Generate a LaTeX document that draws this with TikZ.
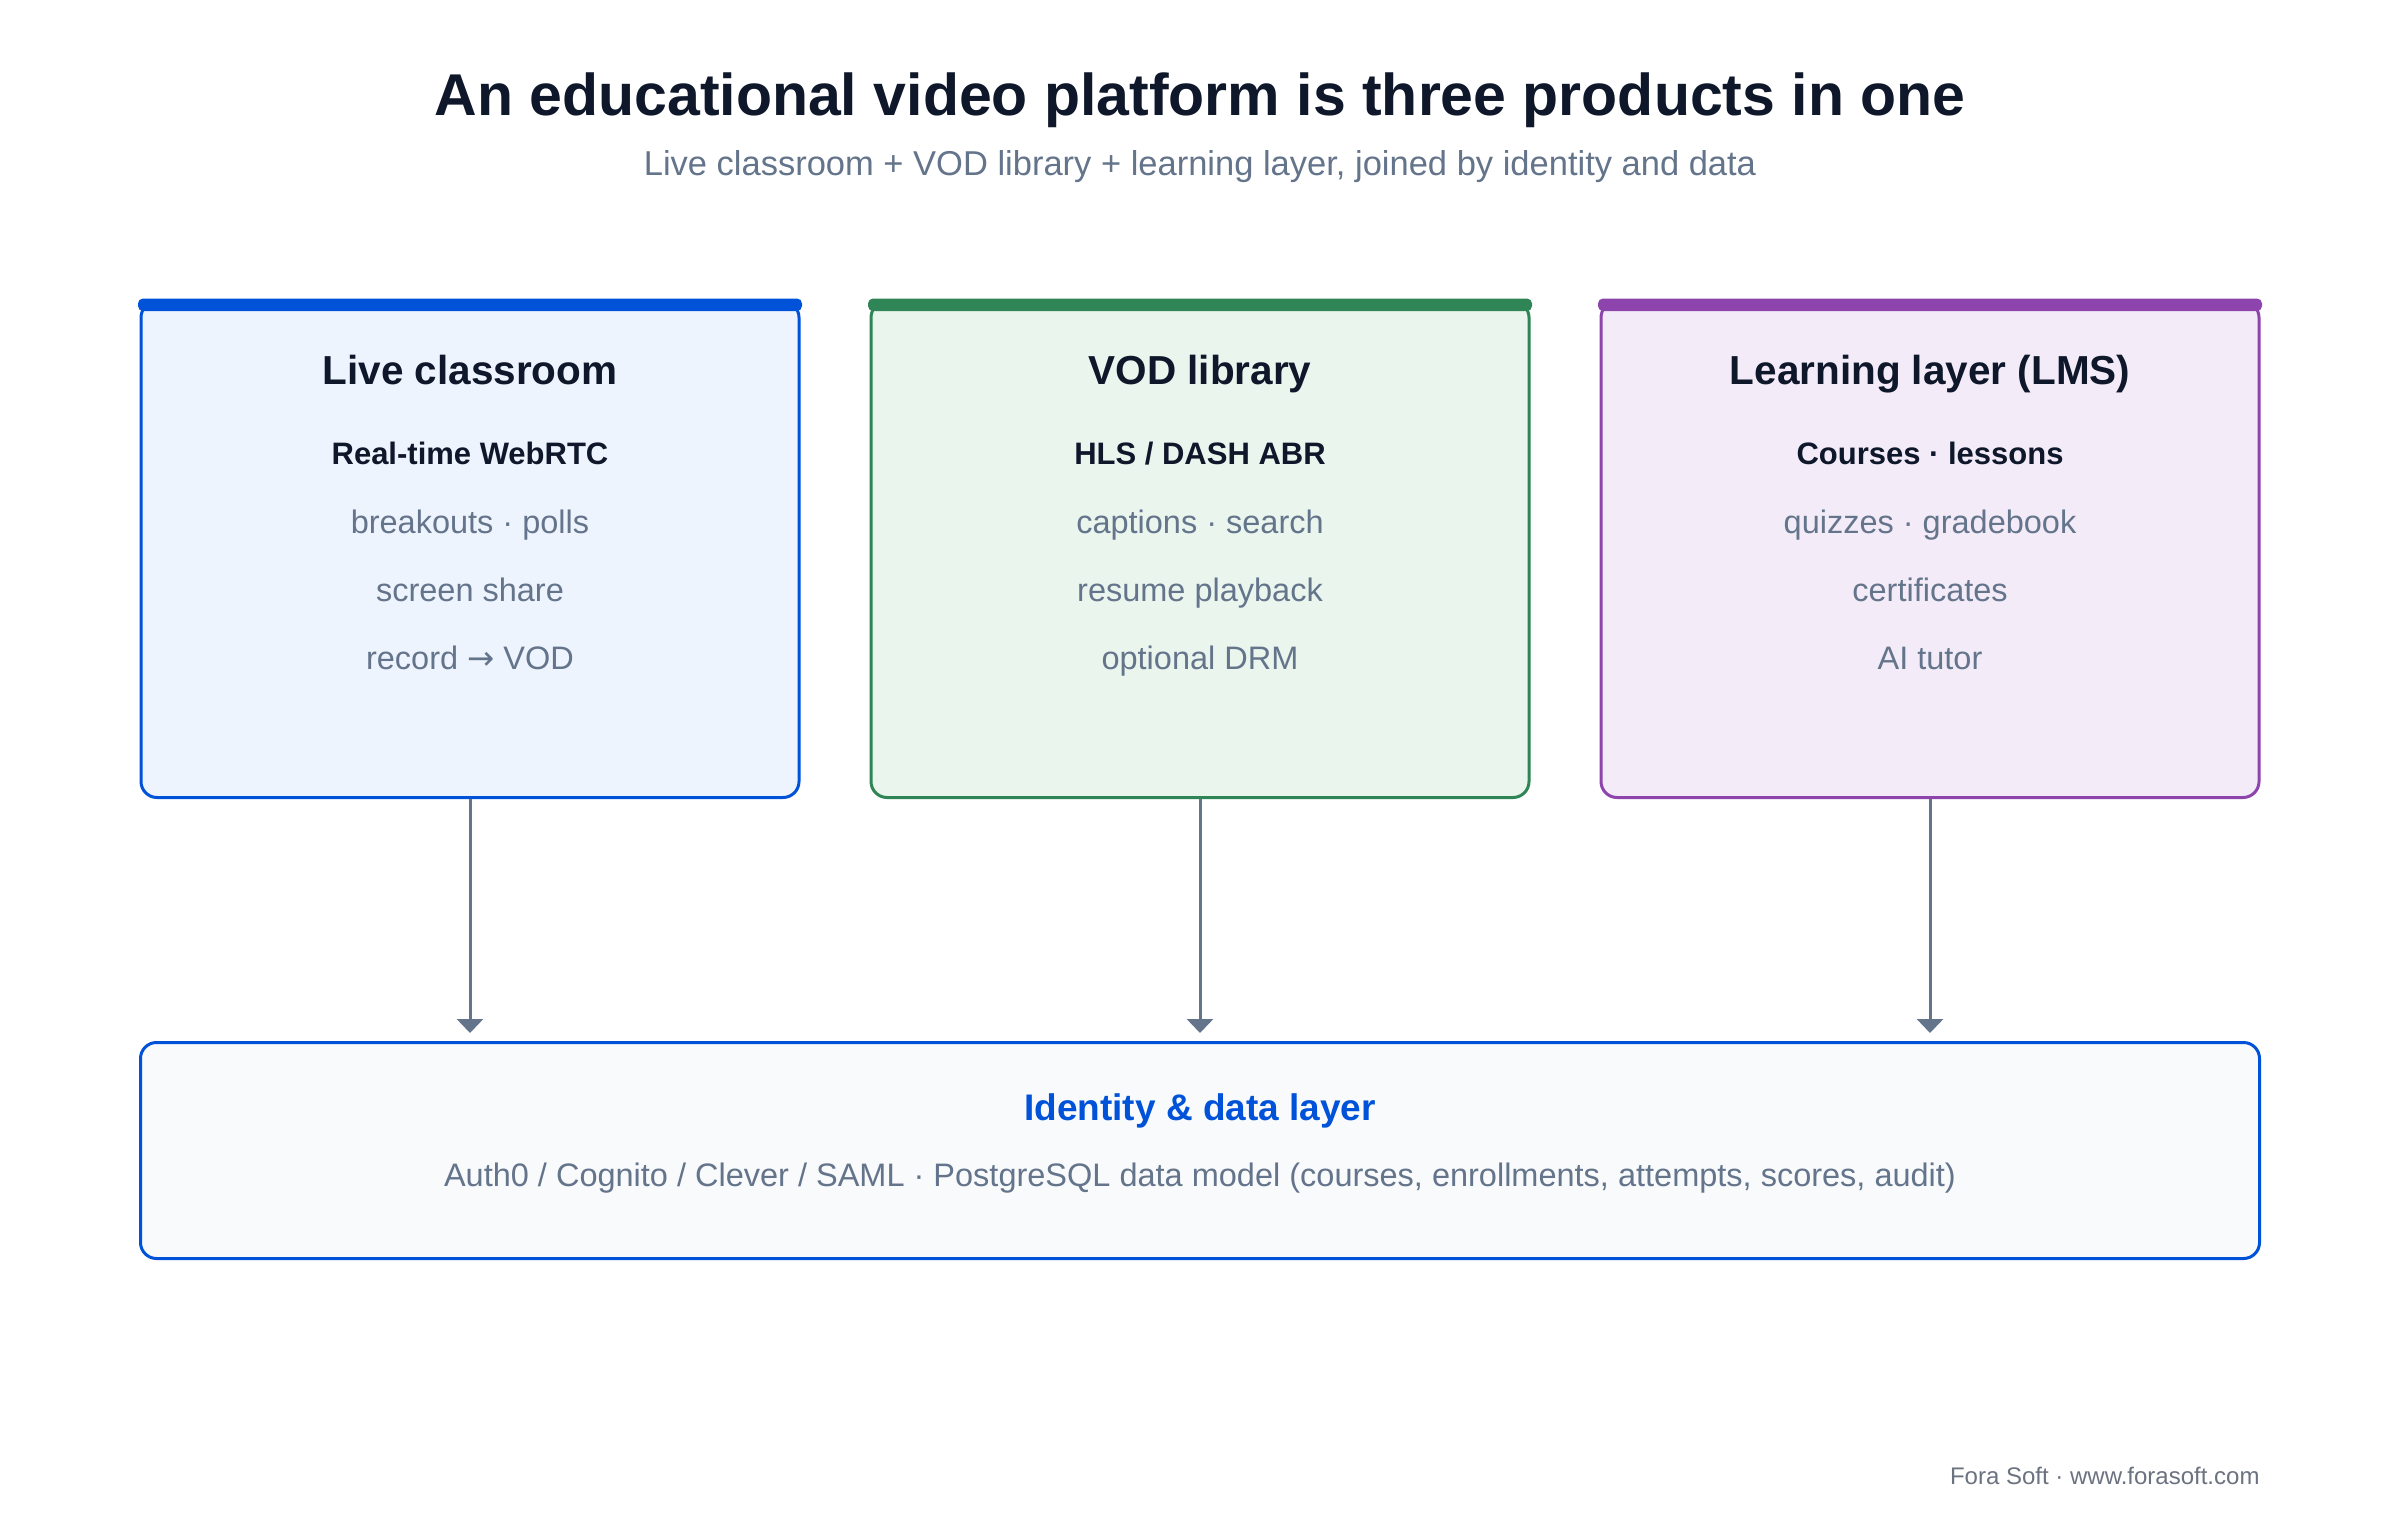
\documentclass[tikz,border=0pt]{standalone}
\usepackage{fontspec}
\setmainfont{Liberation Sans}
\newfontfamily\arrowfont{DejaVu Sans}
\usetikzlibrary{arrows.meta,positioning}

\definecolor{ink}{HTML}{0F172A}
\definecolor{slate}{HTML}{64748B}
\definecolor{footgray}{HTML}{6B7280}
\definecolor{liveblue}{HTML}{0052D9}
\definecolor{vodgreen}{HTML}{2F8555}
\definecolor{lmspurple}{HTML}{8E44AD}
\definecolor{livefill}{HTML}{EEF4FE}
\definecolor{vodfill}{HTML}{EAF5EE}
\definecolor{lmsfill}{HTML}{F3ECF8}
\definecolor{datafill}{HTML}{F8FAFC}

\tikzset{
    panel/.style={rounded corners=16pt, line width=3pt, minimum width=658pt, minimum height=496pt},
    heading/.style={anchor=base, font=\fontsize{40.5}{46}\selectfont\bfseries, text=ink},
    lead/.style={anchor=base, font=\fontsize{31}{36}\selectfont\bfseries, text=ink},
    feature/.style={anchor=base, font=\fontsize{32.5}{37}\selectfont, text=slate},
    link/.style={draw=slate, line width=3pt, -{Triangle[width=26pt,length=14pt]}, shorten >=8pt}
}

\begin{document}
\begin{tikzpicture}[x=1pt,y=-1pt]
    \fill[white] (0,0) rectangle (2400,1520);
    \useasboundingbox (0,0) rectangle (2400,1520);

    \node[anchor=base, font=\fontsize{59}{66}\selectfont\bfseries, text=ink] (title) at (1200,115)
        {An educational video platform is three products in one};
    \node[anchor=base, font=\fontsize{34.5}{40}\selectfont, text=slate] (subtitle) at (1200,175)
        {Live classroom + VOD library + learning layer, joined by identity and data};

    % three products
    \node[panel, draw=liveblue, fill=livefill] (live) at (470,549.5) {};
    \node[panel, draw=vodgreen, fill=vodfill, right=69pt of live] (vod) {};
    \node[panel, draw=lmspurple, fill=lmsfill, right=69pt of vod] (lms) {};

    \fill[liveblue, rounded corners=5pt] ([xshift=-1.5pt,yshift=1.5pt]live.north west) rectangle ([xshift=1.5pt,yshift=-11pt]live.north east);
    \fill[vodgreen, rounded corners=5pt] ([xshift=-1.5pt,yshift=1.5pt]vod.north west) rectangle ([xshift=1.5pt,yshift=-11pt]vod.north east);
    \fill[lmspurple, rounded corners=5pt] ([xshift=-1.5pt,yshift=1.5pt]lms.north west) rectangle ([xshift=1.5pt,yshift=-11pt]lms.north east);

    \node[heading] (livetitle) at ([yshift=-84pt]live.north) {Live classroom};
    \node[lead] (livelead) at ([yshift=-80pt]livetitle.base) {Real-time WebRTC};
    \node[feature] (livea) at ([yshift=-69pt]livelead.base) {breakouts · polls};
    \node[feature] (liveb) at ([yshift=-68pt]livea.base) {screen share};
    \node[feature] (livec) at ([yshift=-68pt]liveb.base) {record {\arrowfont →} VOD};

    \node[heading] (vodtitle) at ([yshift=-84pt]vod.north) {VOD library};
    \node[lead] (vodlead) at ([yshift=-80pt]vodtitle.base) {HLS / DASH ABR};
    \node[feature] (voda) at ([yshift=-69pt]vodlead.base) {captions · search};
    \node[feature] (vodb) at ([yshift=-68pt]voda.base) {resume playback};
    \node[feature] (vodc) at ([yshift=-68pt]vodb.base) {optional DRM};

    \node[heading] (lmstitle) at ([yshift=-84pt]lms.north) {Learning layer (LMS)};
    \node[lead] (lmslead) at ([yshift=-80pt]lmstitle.base) {Courses · lessons};
    \node[feature] (lmsa) at ([yshift=-69pt]lmslead.base) {quizzes · gradebook};
    \node[feature] (lmsb) at ([yshift=-68pt]lmsa.base) {certificates};
    \node[feature] (lmsc) at ([yshift=-68pt]lmsb.base) {AI tutor};

    % shared layer
    \node[rounded corners=16pt, line width=3pt, draw=liveblue, fill=datafill,
        minimum width=2119pt, minimum height=216pt] (data) at (1200,1150.5) {};
    \node[anchor=base, font=\fontsize{37}{42}\selectfont\bfseries, text=liveblue] (datatitle) at ([yshift=-79pt]data.north) {Identity \& data layer};
    \node[feature] (datatext) at ([yshift=-66pt]datatitle.base)
        {Auth0 / Cognito / Clever / SAML · PostgreSQL data model (courses, enrollments, attempts, scores, audit)};

    \draw[link] (live.south) -- (live.south |- data.north);
    \draw[link] (vod.south) -- (vod.south |- data.north);
    \draw[link] (lms.south) -- (lms.south |- data.north);

    \node[anchor=base east, font=\fontsize{24}{28}\selectfont, text=footgray] (credit) at (2263,1484)
        {Fora Soft · www.forasoft.com};
\end{tikzpicture}
\end{document}
